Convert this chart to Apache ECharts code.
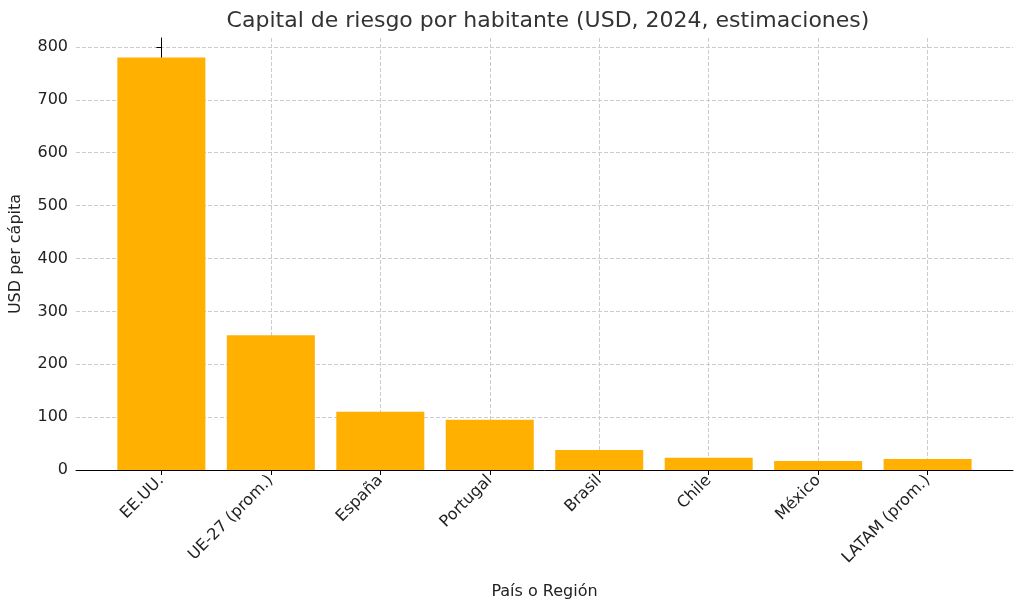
<!DOCTYPE html><html><head><meta charset="utf-8"><script src="https://cdn.jsdelivr.net/npm/echarts@6/dist/echarts.min.js"></script></head><body style="margin:0"><div id="c" style="width:1024px;height:611px"></div><script>
const categories=["EE.UU.","UE-27 (prom.)","España","Portugal","Brasil","Chile","México","LATAM (prom.)"];
const values=[780,255,110,95,38,23,17,21];
const yTicks=[0,100,200,300,400,500,600,700,800];
const ch=echarts.init(document.getElementById('c'));
const F='DejaVu Sans';
ch.setOption({animation:false,textStyle:{fontFamily:F},
title:{text:'Capital de riesgo por habitante (USD, 2024, estimaciones)',left:543,top:5,textAlign:'center',textStyle:{fontFamily:F,fontSize:22,fontWeight:'normal',color:'#333'}},
grid:{left:72,right:11,top:38,bottom:141},
xAxis:{type:'value',min:-0.78,max:7.78,name:'País o Región',nameLocation:'middle',nameGap:114,nameTextStyle:{fontSize:16,color:'#222'},
axisLine:{lineStyle:{color:'#000'}},axisTick:{customValues:[0,1,2,3,4,5,6,7],length:5,lineStyle:{color:'#000'}},
axisLabel:{customValues:[0,1,2,3,4,5,6,7],rotate:45,fontSize:16,color:'#222',margin:8,formatter:v=>categories[Math.round(v)]},
splitLine:{show:true,lineStyle:{type:'dashed',color:'#ccc'}}},
yAxis:{type:'value',min:0,max:817,name:'USD per cápita',nameLocation:'middle',nameGap:52,nameTextStyle:{fontSize:16,color:'#222'},
axisLine:{show:true,lineStyle:{color:'#000'}},axisTick:{show:true,customValues:yTicks,length:5,lineStyle:{color:'#000'}},
axisLabel:{customValues:yTicks,fontSize:16,color:'#222'},splitLine:{lineStyle:{type:'dashed',color:'#ccc'}}},
series:[{type:'bar',barWidth:88,itemStyle:{color:'#FFB000'},data:values.map((v,i)=>[i,v])}]});
</script></body></html>
